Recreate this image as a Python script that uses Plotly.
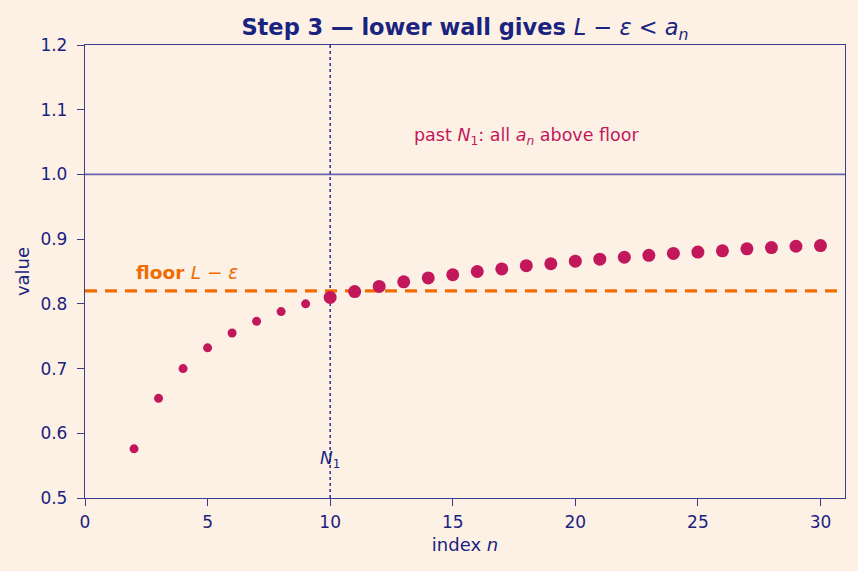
import plotly.graph_objects as go

n_vals = list(range(2, 31))
a_vals = [0.576, 0.654, 0.700, 0.732, 0.755, 0.773, 0.788, 0.800, 0.810,
          0.819, 0.827, 0.834, 0.840, 0.845, 0.850, 0.854, 0.859, 0.862,
          0.866, 0.869, 0.872, 0.875, 0.878, 0.880, 0.882, 0.885, 0.887,
          0.889, 0.890]
L_val = 1.0
floor_val = 0.82
N1 = 10
x_ticks = [0, 5, 10, 15, 20, 25, 30]
y_ticks = [0.5, 0.6, 0.7, 0.8, 0.9, 1.0, 1.1, 1.2]

BG = "#fdf1e6"
NAVY = "#1a237e"
AXIS = "#3d3d8f"
CRIMSON = "#c2185b"
ORANGE = "#ef6c00"

fig = go.Figure()

pre_n = [n for n in n_vals if n < N1]
pre_a = [a for n, a in zip(n_vals, a_vals) if n < N1]
post_n = [n for n in n_vals if n >= N1]
post_a = [a for n, a in zip(n_vals, a_vals) if n >= N1]

fig.add_trace(go.Scatter(x=pre_n, y=pre_a, mode="markers",
                         marker=dict(color=CRIMSON, size=9), showlegend=False))
fig.add_trace(go.Scatter(x=post_n, y=post_a, mode="markers",
                         marker=dict(color=CRIMSON, size=13), showlegend=False))

fig.add_hline(y=L_val, line=dict(color="#6a63b0", width=1.8), layer="below")
fig.add_hline(y=floor_val, line=dict(color=ORANGE, width=3.4, dash="12px,8px"), layer="below")
fig.add_vline(x=N1, line=dict(color=NAVY, width=1.4, dash="dot"), layer="below")

fig.add_annotation(x=2.0, y=0.849, xanchor="left", yanchor="middle",
                   text="<b>floor </b><i>L</i> − <i>ε</i>", showarrow=False,
                   font=dict(color=ORANGE, size=18.5))
fig.add_annotation(x=13.35, y=1.058, xanchor="left", yanchor="middle",
                   text="past <i>N</i><sub>1</sub>: all <i>a<sub>n</sub></i> above floor",
                   showarrow=False, font=dict(color=CRIMSON, size=17.5))
fig.add_annotation(x=N1, y=0.559, xanchor="center", yanchor="middle",
                   text="<i>N</i><sub>1</sub>", showarrow=False,
                   font=dict(color=NAVY, size=17))

fig.update_layout(
    width=858, height=571,
    paper_bgcolor=BG, plot_bgcolor=BG,
    margin=dict(l=85, r=13, t=45, b=73),
    font=dict(family="DejaVu Sans", color=NAVY, size=17),
    title=dict(text="<b>Step 3 — lower wall gives </b><i>L</i> − <i>ε</i> &lt; <i>a</i><sub><i>n</i></sub>",
               xref="paper", x=0.5, xanchor="center", y=0.952, yanchor="middle",
               font=dict(size=22.5, color=NAVY)),
    showlegend=False,
)
fig.update_xaxes(range=[0, 31], tickvals=x_ticks, showgrid=False, zeroline=False,
                 showline=True, linecolor=AXIS, linewidth=1.3, mirror=True,
                 ticks="outside", ticklen=7, tickcolor=AXIS, ticklabelstandoff=1,
                 title=dict(text="index <i>n</i>", font=dict(size=18), standoff=7))
fig.update_yaxes(range=[0.5, 1.2], tickvals=y_ticks, tickformat=".1f", showgrid=False,
                 zeroline=False, showline=True, linecolor=AXIS, linewidth=1.3, mirror=True,
                 ticks="outside", ticklen=7, tickcolor=AXIS, ticklabelstandoff=6,
                 title=dict(text="value", font=dict(size=18), standoff=6))

fig.write_html("out.html")
